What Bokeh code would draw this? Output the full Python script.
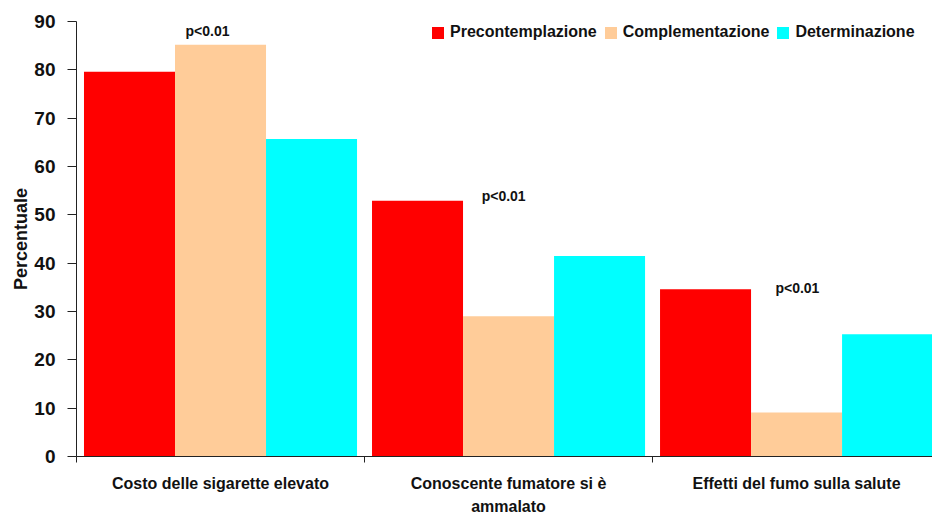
from bokeh.plotting import figure
from bokeh.models import ColumnDataSource, Range1d, FixedTicker, Legend, LegendItem
from bokeh.transform import dodge
from bokeh.core.properties import value
from bokeh.embed import file_html
from bokeh.resources import INLINE

# ---- data ----
categories = ["Costo delle sigarette elevato",
              "Conoscente fumatore si è\nammalato",
              "Effetti del fumo sulla salute"]
cat_pos = [0.5, 1.5, 2.5]
precontemplazione = [79.6, 52.9, 34.6]
complementazione = [85.2, 29.0, 9.1]
determinazione = [65.7, 41.5, 25.3]
series_names = ["Precontemplazione", "Complementazione", "Determinazione"]
series_colors = ["#FF0000", "#FFCC99", "#00FFFF"]
y_ticks = [0, 10, 20, 30, 40, 50, 60, 70, 80, 90]

pval_text = ["p<0.01", "p<0.01", "p<0.01"]
pval_x = [0.455, 1.483, 2.503]
pval_y = [88.1, 53.8, 34.9]

FONT = "Liberation Sans"

src = ColumnDataSource(dict(x=cat_pos, pre=precontemplazione,
                            com=complementazione, det=determinazione))

p = figure(width=932, height=518, output_backend="svg", toolbar_location=None,
           x_range=Range1d(0, 2.972), y_range=Range1d(0, 90),
           min_border_left=76, min_border_right=0, min_border_top=21,
           min_border_bottom=10)
p.outline_line_color = None
p.xgrid.visible = False
p.ygrid.visible = False
p.background_fill_color = "white"
p.border_fill_color = "white"

bw = 0.316
r1 = p.vbar(x=dodge("x", -bw, range=p.x_range), top="pre", width=bw, source=src,
            fill_color=series_colors[0], line_color=None)
r2 = p.vbar(x=dodge("x", 0, range=p.x_range), top="com", width=bw, source=src,
            fill_color=series_colors[1], line_color=None)
r3 = p.vbar(x=dodge("x", bw, range=p.x_range), top="det", width=bw, source=src,
            fill_color=series_colors[2], line_color=None)

p.text(x=pval_x, y=pval_y, text=pval_text, text_font=value(FONT),
       text_font_style="bold", text_font_size="14px", text_align="center",
       text_baseline="middle", text_color="#111111")

# y axis
ya = p.yaxis[0]
ya.ticker = FixedTicker(ticks=y_ticks, minor_ticks=[])
ya.major_tick_out = 9
ya.major_tick_in = 0
ya.axis_line_color = "#222222"
ya.major_tick_line_color = "#222222"
ya.major_label_text_font = FONT
ya.major_label_text_font_style = "bold"
ya.major_label_text_font_size = "19px"
ya.major_label_text_color = "#111111"
ya.major_label_standoff = 12
ya.axis_label = "Percentuale"
ya.axis_label_text_font = FONT
ya.axis_label_text_font_style = "bold"
ya.axis_label_text_font_size = "18px"
ya.axis_label_text_color = "#111111"
ya.axis_label_standoff = 0

# x axis
xa = p.xaxis[0]
xa.ticker = FixedTicker(ticks=cat_pos, minor_ticks=[0, 1, 2, 3])
xa.major_label_overrides = {k: v for k, v in zip(cat_pos, categories)}
xa.major_tick_out = 0
xa.major_tick_in = 0
xa.minor_tick_out = 6
xa.minor_tick_in = 0
xa.axis_line_color = "#222222"
xa.minor_tick_line_color = "#222222"
xa.major_label_text_font = FONT
xa.major_label_text_font_style = "bold"
xa.major_label_text_font_size = "16px"
xa.major_label_text_color = "#111111"
xa.major_label_text_line_height = 1.4
xa.major_label_standoff = 12

legend = Legend(items=[LegendItem(label=series_names[0], renderers=[r1]),
                       LegendItem(label=series_names[1], renderers=[r2]),
                       LegendItem(label=series_names[2], renderers=[r3])],
                orientation="horizontal", location=(354, 415))
legend.label_text_font = FONT
legend.label_text_font_style = "bold"
legend.label_text_font_size = "16px"
legend.label_text_color = "#111111"
legend.label_height = 15
legend.glyph_width = 15
legend.glyph_height = 15
legend.label_standoff = 5
legend.spacing = 6
legend.padding = 0
legend.margin = 0
legend.border_line_color = None
legend.background_fill_alpha = 0
p.add_layout(legend, "center")

open("out.html", "w").write(file_html(p, INLINE))
